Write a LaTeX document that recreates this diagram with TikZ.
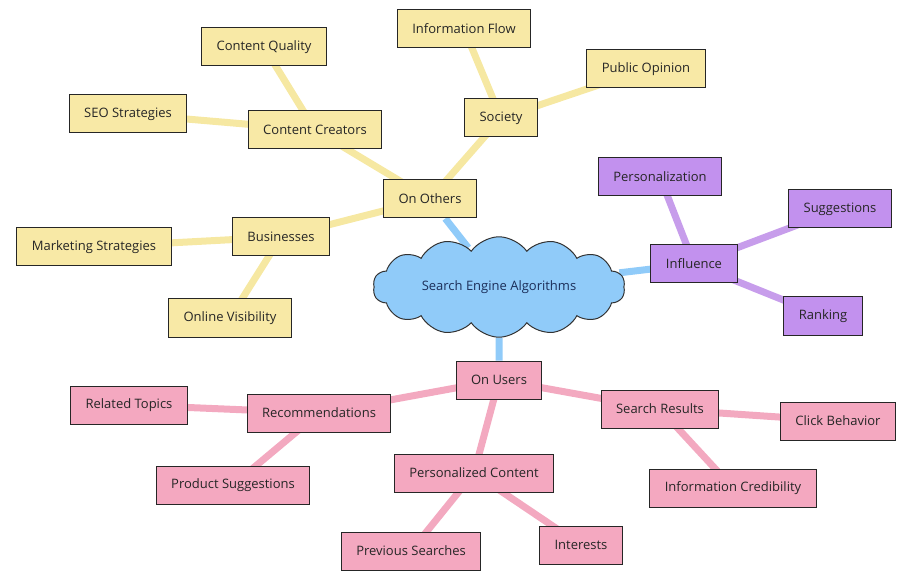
\documentclass[tikz,border=0pt]{standalone}
\usepackage{fontspec}
\setmainfont{Open Sans}
\usetikzlibrary{shapes.symbols,backgrounds}
\definecolor{ybox}{HTML}{F8E9A6}
\definecolor{yline}{HTML}{F6E8A2}
\definecolor{pbox}{HTML}{C291EE}
\definecolor{pline}{HTML}{C79DEB}
\definecolor{kbox}{HTML}{F4A8C0}
\definecolor{kline}{HTML}{F3A9C0}
\definecolor{bcloud}{HTML}{90CBF9}
\definecolor{bline}{HTML}{90CBF9}
\definecolor{navy}{HTML}{1C2F5A}
\tikzset{
  box/.style={draw=black!85, line width=1pt, rectangle, minimum height=38pt,
    inner xsep=15pt, font=\fontsize{13}{15}\selectfont, text=black!85},
  ybx/.style={box, fill=ybox},
  pbx/.style={box, fill=pbox},
  kbx/.style={box, fill=kbox},
  lnk/.style={line width=7pt},
  ylnk/.style={lnk, draw=yline},
  plnk/.style={lnk, draw=pline},
  klnk/.style={lnk, draw=kline},
  blnk/.style={lnk, draw=bline},
}
\begin{document}
\begin{tikzpicture}[x=1pt,y=-1pt]
\useasboundingbox (0,0) rectangle (911,580);
% root
\node[cloud, cloud puffs=14, cloud puff arc=110, aspect=3, draw=black!80, line width=1pt,
  fill=bcloud, minimum width=252pt, minimum height=86pt, text=navy,
  font=\fontsize{13}{15}\selectfont] (root) at (499,287) {Search Engine Algorithms};
% yellow
\node[ybx] (others) at (430,199) {On Others};
\node[ybx] (creators) at (315,130) {Content Creators};
\node[ybx] (quality) at (264,47) {Content Quality};
\node[ybx] (seo) at (128,114) {SEO Strategies};
\node[ybx] (society) at (501,118) {Society};
\node[ybx] (infoflow) at (464,29) {Information Flow};
\node[ybx] (opinion) at (646,69) {Public Opinion};
\node[ybx] (business) at (281,237) {Businesses};
\node[ybx] (marketing) at (94,247) {Marketing Strategies};
\node[ybx] (visibility) at (230,318) {Online Visibility};
% purple
\node[pbx] (influence) at (694,264) {Influence};
\node[pbx] (personal) at (660,177) {Personalization};
\node[pbx] (suggest) at (840,209) {Suggestions};
\node[pbx] (ranking) at (823,316) {Ranking};
% pink
\node[kbx] (users) at (499,380) {On Users};
\node[kbx] (recomm) at (319,413) {Recommendations};
\node[kbx] (related) at (129,405) {Related Topics};
\node[kbx] (product) at (233,485) {Product Suggestions};
\node[kbx] (perscont) at (474,473) {Personalized Content};
\node[kbx] (prev) at (411,551) {Previous Searches};
\node[kbx] (interests) at (581,545) {Interests};
\node[kbx] (results) at (660,409) {Search Results};
\node[kbx] (click) at (838,421) {Click Behavior};
\node[kbx] (cred) at (733,488) {Information Credibility};
% connectors
\begin{scope}[on background layer]
\draw[blnk] (root) -- (others);
\draw[blnk] (root) -- (influence);
\draw[blnk] (root) -- (users);
\draw[ylnk] (others.center) -- (creators.center);
\draw[ylnk] (others.center) -- (society.center);
\draw[ylnk] (others.center) -- (business.center);
\draw[ylnk] (creators.center) -- (quality.center);
\draw[ylnk] (creators.center) -- (seo.center);
\draw[ylnk] (society.center) -- (infoflow.center);
\draw[ylnk] (society.center) -- (opinion.center);
\draw[ylnk] (business.center) -- (marketing.center);
\draw[ylnk] (business.center) -- (visibility.center);
\draw[plnk] (influence.center) -- (personal.center);
\draw[plnk] (influence.center) -- (suggest.center);
\draw[plnk] (influence.center) -- (ranking.center);
\draw[klnk] (users.center) -- (recomm.center);
\draw[klnk] (users.center) -- (perscont.center);
\draw[klnk] (users.center) -- (results.center);
\draw[klnk] (recomm.center) -- (related.center);
\draw[klnk] (recomm.center) -- (product.center);
\draw[klnk] (perscont.center) -- (prev.center);
\draw[klnk] (perscont.center) -- (interests.center);
\draw[klnk] (results.center) -- (click.center);
\draw[klnk] (results.center) -- (cred.center);
\end{scope}
\end{tikzpicture}
\end{document}
